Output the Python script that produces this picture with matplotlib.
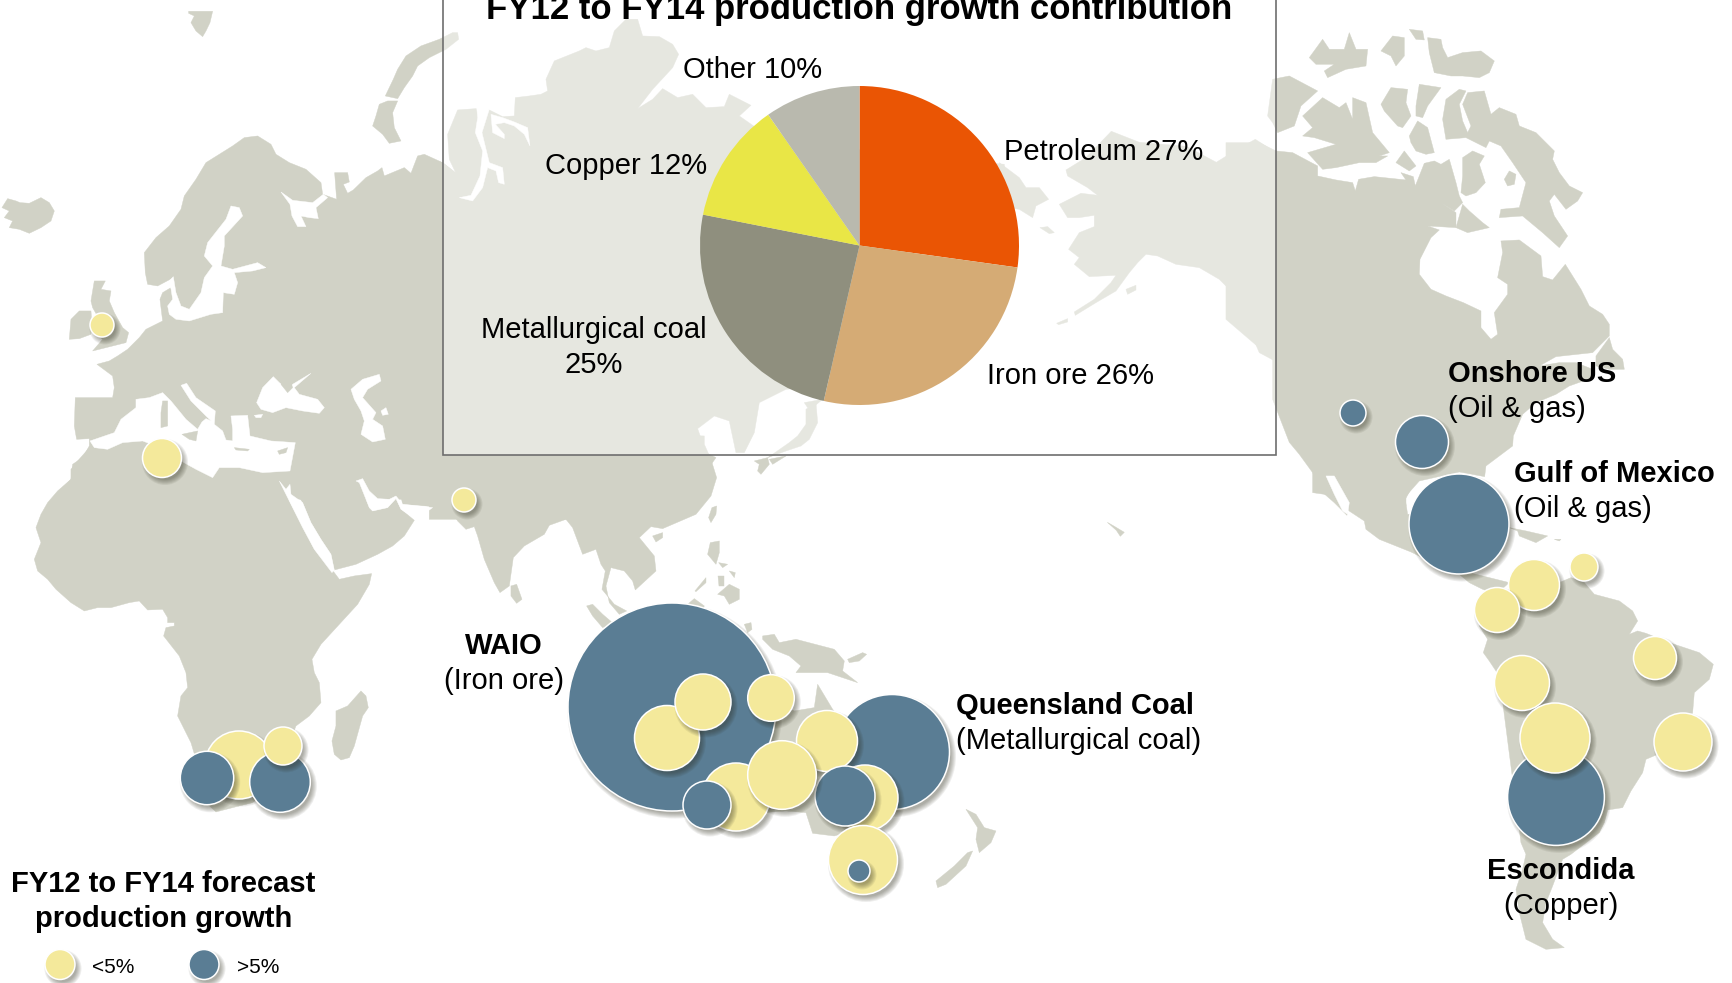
import matplotlib
matplotlib.use("Agg")
import matplotlib.pyplot as plt
from matplotlib.patches import Circle, Polygon, Rectangle

plt.rcParams['font.family'] = ['Liberation Sans', 'DejaVu Sans']

W, H = 1733, 983
LAND = '#D1D2C6'
BLUE = '#5A7D94'
YELLOW = '#F4E99B'

# ---------- pie data ----------
pie_labels = ['Petroleum', 'Iron ore', 'Metallurgical coal', 'Copper', 'Other']
pie_values = [27, 26, 25, 12, 10]
pie_shares = [27.2, 26.4, 24.5, 12.2, 9.7]
pie_colors = ['#EA5504', '#D5AB75', '#8F8F7E', '#E9E646', '#B9B9AE']

# ---------- bubble data (map x, map y, radius, kind) in stacking order ----------
bubble_x = [102, 162, 464, 239, 207, 280, 283,
            672, 667, 703, 771, 892, 865, 827, 845, 736, 707, 782, 863, 859,
            1353, 1422, 1459, 1584, 1534, 1497, 1655, 1522, 1556, 1555, 1683]
bubble_y = [325, 458, 500, 765, 778, 782, 746,
            707, 738, 702, 698, 752, 798, 741, 796, 797, 805, 775, 860, 871,
            413, 442, 524, 567, 585, 610, 658, 683, 797, 738, 742]
bubble_r = [12, 19.5, 12, 34, 26.7, 30.3, 19,
            104, 32.5, 28, 23.3, 57.5, 33, 30.5, 30, 34, 24, 34.3, 34.5, 11,
            13, 26.5, 50, 14, 25.5, 22.5, 21.5, 27.5, 48.4, 35, 29]
bubble_kind = ['y', 'y', 'y', 'y', 'b', 'b', 'y',
               'b', 'y', 'y', 'y', 'b', 'y', 'y', 'b', 'y', 'b', 'y', 'y', 'b',
               'b', 'b', 'b', 'y', 'y', 'y', 'y', 'y', 'b', 'y', 'y']

land_traces = [
 (0, 0, [(568,36),(640,36),(632,70),(620,95),(610,112),(590,95),(575,70),(585,50),(568,42)]),
 (0, 0, [(1375,100),(1378,120),(1340,150),(1290,175),(1255,200),(1240,230),(1215,265),(1195,298),(1158,290),(1170,265),(1182,240),(1195,210),(1220,170),(1265,140),(1320,120),(1360,100)]),
 (0, 0, [(1195,305),(1180,340),(1185,385),(1205,425),(1170,432),(1150,405),(1120,380),(1130,350),(1140,315),(1165,305)]),
 (0, 0, [(8,625),(25,598),(50,605),(62,610),(90,612),(125,595),(150,610),(165,635),(155,665),(125,685),(90,702),(60,690),(30,685),(40,665),(15,655),(30,635)]),
 (0, 0, [(210,1020),(215,960),(240,935),(275,935),(278,975),(275,1005),(240,1018)]),
 (0, 0, [(285,845),(318,845),(305,870),(335,875),(330,905),(345,940),(370,985),(388,1000),(380,1030),(340,1040),(280,1055),(310,1020),(290,1000),(300,960),(280,925),(275,905)]),
 # Europe and western Russia
 (0, 0, [(293,1095),(330,1085),(355,1070),(385,1050),(420,1015),(440,990),(480,970),(490,965),(482,900),(490,880),(515,865),(522,835),(475,860),(445,855),(438,820),(435,760),(470,715),(510,680),(545,630),(555,590),(590,540),(620,490),(660,465),(700,440),(735,415),(775,410),(815,435),(830,465),(870,490),(920,510),(965,550),(970,585),(1012,600),(1006,520),(1045,520),(1050,548),(1032,555),(1045,582),(1062,572),(1100,535),(1135,515),(1148,505),(1155,530),(1215,505),(1235,522),(1255,470),(1275,465),(1330,490),(1375,525),(1440,600),(1500,1500),(160,1500),(215,1440),(220,1395),(250,1375),(270,1340),(270,1318),(232,1320),(225,1280),(228,1195),(340,1195),(345,1165),(340,1130)]),
 # Africa
 (20, 440, [(215,20),(175,65),(155,90),(155,120),(115,155),(85,190),(65,225),(50,265),(65,310),(45,360),(55,395),(85,420),(110,450),(155,490),(195,515),(235,505),(275,505),(330,490),(360,485),(385,512),(430,510),(445,535),(445,550),(465,550),(465,560),(440,565),(433,590),(480,650),(500,700),(505,745),(485,770),(475,830),(515,910),(530,960),(560,1090),(590,1118),(640,1105),(700,1090),(760,1040),(830,860),(870,830),(905,790),(900,730),(885,700),(878,660),(905,615),(960,555),(1015,495),(1050,435),(1057,403),(1005,410),(960,420),(945,400),(885,330),(850,260),(815,195),(782,130),(800,60),(600,20)]),
 # Arabia
 (20, 440, [(815,135),(850,190),(875,250),(905,300),(935,345),(945,392),(1010,375),(1075,345),(1120,320),(1155,290),(1185,243),(1145,210),(1130,178),(1105,205),(1060,215),(1050,205),(1020,130),(900,60)]),
 (20, 440, [(1025,755),(1040,770),(1047,805),(1030,830),(1005,920),(990,955),(965,962),(945,945),(938,905),(950,860),(950,815),(985,800)]),
 # Siberia
 (440, 20, [(-30,420),(10,430),(50,462),(30,420),(25,345),(55,272),(110,268),(150,272),(190,292),(225,290),(228,235),(270,230),(305,225),(325,215),(320,180),(345,125),(420,95),(440,85),(470,95),(510,85),(525,35),(560,0),(595,0),(610,50),(660,52),(700,75),(718,105),(700,145),(640,210),(595,268),(640,240),(670,208),(715,235),(760,225),(800,265),(855,262),(870,225),(935,258),(900,290),(950,325),(1300,400),(1695,435),(1700,650),(1400,700),(1150,1100),(1040,1110),(960,1150),(945,1240),(915,1300),(890,1300),(870,1205),(825,1190),(775,1228),(800,1300),(830,1315),(700,1500),(-30,1500)]),
 (440, 20, [(1095,1150),(1150,1140),(1120,1165),(1105,1165)]),
 (440, 20, [(1100,1170),(1130,1150),(1135,1210),(1110,1260),(1085,1280),(1040,1295),(985,1315),(1000,1305),(1050,1270),(1075,1250),(1100,1215)]),
 (440, 20, [(945,1325),(985,1315),(990,1335),(965,1365),(955,1355),(960,1335)]),
 (440, 20, [(990,1320),(1040,1310),(1000,1335)]),
 # South and South-East Asia
 (430, 440, [(-120,0),(-80,195),(15,202),(55,198),(85,245),(110,270),(135,262),(145,290),(165,360),(195,430),(212,460),(240,440),(252,355),(285,320),(345,285),(360,258),(410,240),(430,265),(460,345),(500,330),(515,375),(528,395),(518,450),(555,495),(592,515),(570,525),(540,490),(530,440),(545,385),(585,395),(610,425),(618,452),(680,395),(675,350),(630,295),(665,262),(700,268),(800,225),(845,170),(862,115),(845,60),(825,15),(825,-10),(0,-30)]),
 (430, 440, [(245,440),(262,435),(278,480),(262,492),(245,470)]),
 (430, 440, [(670,290),(700,280),(700,295),(680,308)]),
 (430, 440, [(848,205),(862,200),(860,225),(845,250),(838,235)]),
 (430, 440, [(472,500),(490,495),(520,525),(555,555),(520,565),(490,530)]),
 (430, 440, [(843,310),(870,305),(870,340),(860,375),(835,345)]),
 (430, 440, [(868,370),(895,375),(880,385)]),
 (430, 440, [(900,395),(918,400),(915,415)]),
 (430, 440, [(797,455),(830,415),(830,430),(800,457)]),
 (430, 440, [(865,410),(885,410),(885,440),(870,440)]),
 (430, 440, [(865,465),(900,435),(930,450),(930,480),(900,495),(885,470)]),
 (430, 440, [(775,495),(795,478),(825,500),(800,560)]),
 (430, 440, [(945,555),(965,550),(968,570),(955,580)]),
 (430, 440, [(1000,590),(1035,585),(1050,610),(1100,600),(1215,630),(1245,665),(1240,695),(1285,730),(1240,715),(1195,700),(1100,700),(1115,680),(1080,650),(1030,630),(1000,600)]),
 (430, 440, [(1255,660),(1300,640),(1312,645),(1290,665),(1260,670)]),
 # Australia and New Zealand
 (530, 580, [(795,395),(855,385),(865,315),(880,340),(910,390),(960,450),(1100,620),(1050,720),(1000,745),(915,770),(850,762),(830,700),(770,695),(700,700),(640,700),(500,500),(700,350)]),
 (530, 580, [(1310,690),(1340,705),(1365,745),(1400,755),(1385,790),(1350,820),(1340,780),(1345,745)]),
 (530, 580, [(1330,815),(1310,860),(1250,915),(1225,925),(1220,905),(1275,860),(1315,820)]),
 (0, 0, [(3324,1569),(3345,1581),(3375,1599),(3363,1611),(3351,1593)]),
 # Chukotka and Alaska
 (1000, 140, [(0,70),(60,115),(80,145),(120,145),(148,180),(110,200),(100,235),(60,210),(0,200)]),
 (1000, 140, [(200,92),(260,55),(336,-24),(420,9),(561,21),(651,69),(714,30),(768,0),(830,40),(900,200),(900,700),(832,700),(822,660),(775,580),(740,500),(660,420),(600,385),(530,375),(475,350),(440,345),(415,370),(390,400),(350,455),(290,490),(228,528),(225,518),(285,480),(335,430),(350,408),(270,412),(225,375),(240,355),(208,330),(240,280),(285,262),(285,228),(240,235),(205,235),(180,195),(245,162),(295,168),(265,145),(205,110)]),
 (1000, 140, [(380,450),(410,438),(410,452),(385,465)]),
 (1000, 140, [(172,552),(205,538),(205,548),(178,556)]),
 (1000, 140, [(122,265),(145,262),(165,280),(150,283)]),
 (1000, 140, [(695,535),(715,535),(712,555),(700,553)]),
 (1000, 140, [(768,612),(800,620),(835,650),(850,670),(840,672),(780,640)]),
 # Canadian Arctic
 (1260, 20, [(505,55),(545,60),(550,85),(565,115),(610,100),(665,95),(705,125),(690,160),(660,175),(610,170),(575,170),(525,160),(510,100)]),
 (1260, 20, [(450,30),(490,35),(495,62),(470,60)]),
 (1260, 20, [(365,95),(400,50),(435,55),(435,110),(410,140),(395,110)]),
 (1260, 20, [(150,115),(190,60),(210,90),(255,90),(270,40),(290,90),(325,90),(320,140),(260,150),(205,175),(195,155),(225,135),(170,135)]),
 (1260, 20, [(25,290),(40,180),(90,170),(175,215),(125,260),(105,320),(55,340),(40,310)]),
 (1260, 20, [(130,290),(190,235),(240,265),(260,250),(280,300),(280,235),(320,250),(340,340),(390,400),(360,410),(385,410),(350,430),(300,430),(230,445),(190,450),(145,400),(230,375),(165,355),(130,350),(160,325)]),
 (1260, 20, [(365,255),(395,205),(445,210),(440,250),(455,290),(430,325),(415,320),(375,275)]),
 (1260, 20, [(470,260),(480,195),(545,205),(505,260),(490,295),(470,290)]),
 (1260, 20, [(450,350),(475,305),(505,325),(525,400),(500,405),(470,395),(455,370)]),
 (1260, 20, [(410,430),(435,395),(470,440),(450,455)]),
 (1260, 20, [(610,255),(625,220),(675,215),(695,285),(720,265),(770,285),(780,320),(830,340),(885,395),(880,420),(900,460),(930,500),(970,520),(955,545),(920,570),(885,525),(870,545),(885,590),(925,650),(900,685),(850,640),(790,590),(720,595),(725,570),(780,565),(800,490),(760,430),(725,380),(690,365),(680,385),(620,355),(560,360),(550,300),(560,240),(600,210),(620,215),(600,255),(610,305),(625,340),(635,320)]),
 (1260, 20, [(735,480),(750,455),(770,465),(765,495),(745,500)]),
 (1260, 20, [(610,415),(640,395),(675,410),(660,435),(678,490),(650,520),(620,530),(605,520),(610,470)]),
 (1260, 20, [(610,555),(630,575),(670,610),(690,625),(625,640),(590,625)]),
 # Canada and USA
 (1260, 20, [(0,370),(50,395),(100,400),(175,440),(175,470),(230,482),(280,490),(288,515),(298,480),(345,472),(440,482),(425,460),(462,472),(468,500),(480,470),(495,432),(525,425),(545,435),(570,420),(590,490),(600,530),(610,550),(585,575),(545,550),(590,580),(590,625),(505,620),(540,632),(515,655),(482,720),(480,765),(515,810),(560,830),(612,850),(665,875),(665,925),(695,960),(715,945),(705,880),(745,825),(745,795),(715,775),(730,700),(725,665),(780,662),(845,710),(850,772),(880,782),(918,735),(965,810),(990,860),(1030,885),(1050,915),(1050,950),(1000,1000),(890,1012),(840,1040),(900,1030),(950,1030),(1000,1050),(1000,1075),(930,1100),(890,1125),(830,1150),(790,1185),(762,1250),(760,1280),(680,1340),(676,1372),(600,1358),(480,1385),(440,1430),(440,1460),(160,1420),(160,1360),(120,1305),(90,1269),(40,1140),(40,1020),(-100,900),(-100,370)]),
 (1260, 20, [(1010,1010),(1050,955),(1060,990),(1090,1020),(1095,1050),(1050,1050),(1010,1040)]),
 # Mexico, Central America, Caribbean
 (1280, 480, [(100,-20),(125,35),(165,70),(203,108),(205,92),(255,125),(260,150),(300,180),(395,218),(480,260),(540,285),(570,310),(610,330),(650,345),(690,310),(530,270),(500,200),(440,100),(385,105),(378,60),(400,20),(400,-20)]),
 (1280, 480, [(690,145),(740,155),(805,170),(770,190),(720,170),(715,155)]),
 (1280, 480, [(825,180),(845,180),(840,185)]),
 # South America
 (1280, 480, [(650,340),(840,310),(875,295),(915,310),(945,345),(1020,365),(1060,395),(1075,425),(1050,465),(1075,455),(1100,462),(1170,490),(1260,520),(1302,555),(1290,600),(1245,640),(1240,700),(1195,800),(1100,840),(1090,880),(1055,935),(1030,985),(985,992),(975,1030),(960,1060),(875,1125),(850,1140),(820,1220),(800,1270),(790,1330),(820,1380),(855,1405),(800,1410),(740,1380),(720,1300),(710,1230),(730,1170),(740,1125),(725,1090),(700,900),(660,590),(630,545),(612,520),(625,480),(600,440)]),
]

water_traces = [
 # Baltic
 (0, 0, [(505,850),(522,832),(530,880),(545,920),(570,930),(605,880),(615,835),(640,800),(615,770),(625,730),(680,660),(695,620),(720,625),(730,650),(675,710),(675,740),(665,800),(700,810),(775,790),(800,805),(760,815),(705,820),(715,850),(705,885),(672,880),(670,940),(635,945),(570,965),(530,960),(510,945),(505,920),(520,900),(515,868)]),
 # White Sea
 (0, 0, [(845,578),(880,603),(940,610),(972,585),(985,595),(950,625),(957,658),(930,655),(905,650),(920,682),(895,682),(878,650),(872,615)]),
 # Mediterranean
 (0, 0, [(272,1325),(345,1300),(365,1260),(410,1225),(410,1200),(450,1195),(490,1180),(515,1205),(560,1260),(595,1290),(608,1268),(620,1258),(636,1265),(620,1250),(575,1205),(545,1158),(562,1152),(590,1195),(648,1235),(645,1275),(670,1295),(680,1322),(700,1325),(700,1290),(695,1250),(745,1248),(752,1310),(815,1325),(888,1330),(872,1415),(790,1420),(720,1405),(660,1405),(640,1435),(590,1410),(545,1385),(470,1340),(430,1325),(370,1330),(325,1350),(285,1345)]),
 # Black Sea, Marmara, Caspian, Aral
 (0, 0, [(772,1210),(790,1165),(822,1132),(840,1150),(870,1175),(880,1155),(935,1122),(885,1165),(900,1185),(955,1200),(975,1225),(960,1242),(910,1235),(860,1225),(820,1240),(785,1230)]),
 (0, 0, [(765,1248),(790,1245),(785,1255),(770,1255)]),
 (0, 0, [(1055,1170),(1090,1140),(1140,1125),(1145,1145),(1105,1170),(1090,1195),(1130,1240),(1120,1260),(1150,1280),(1158,1320),(1120,1328),(1085,1305),(1095,1265),(1085,1235),(1065,1200)]),
 (0, 0, [(1145,1235),(1160,1225),(1167,1245),(1150,1248)]),
 # Red Sea head and Persian Gulf
 (20, 440, [(780,125),(800,150),(812,135),(815,165),(850,190),(875,250),(905,300),(935,345),(945,392),(938,400),(885,330),(850,265),(815,195)]),
 (20, 440, [(1010,125),(1030,118),(1050,155),(1075,178),(1110,180),(1130,170),(1150,195),(1200,200),(1240,205),(1190,240),(1145,210),(1130,178),(1105,205),(1060,215),(1050,205),(1020,130)]),
 # Siberian gulfs
 (440, 20, [(112,262),(150,270),(128,340),(150,430),(190,445),(195,495),(178,490),(170,455),(145,445),(130,505),(100,545),(60,535),(95,528),(122,470),(130,395),(108,340),(115,295)]),
 (440, 20, [(190,295),(225,308),(265,325),(272,380),(255,345),(225,320),(195,310),(168,315),(195,345),(195,358),(160,340),(155,285)]),
 # Gulf of California
 (1280, 480, [(140,-10),(165,-10),(210,70),(205,105),(190,95),(165,45)]),
]

island_traces = [
 (0, 0, [(490,1205),(505,1205),(505,1280),(485,1285),(485,1240)]),
 (0, 0, [(548,1305),(595,1295),(590,1325),(570,1320)]),
 (0, 0, [(705,1345),(750,1350),(745,1355),(710,1352)]),
 (0, 0, [(835,1355),(865,1345),(860,1360),(840,1365)]),
 (0, 0, [(845,1155),(875,1150),(880,1165),(865,1180)]),
]

fig = plt.figure(figsize=(W / 100, H / 100), dpi=100, facecolor='white')
ax = fig.add_axes([0, 0, 1, 1])
ax.set_xlim(0, W)
ax.set_ylim(H, 0)
ax.axis('off')


def trace(ox, oy, pts):
    return [(ox + x / 3 - 0.7, oy + y / 3 - 0.7) for x, y in pts]


for ox, oy, pts in land_traces:
    ax.add_patch(Polygon(trace(ox, oy, pts), closed=True, fc=LAND, ec=LAND, lw=0.3, zorder=1))
for ox, oy, pts in water_traces:
    ax.add_patch(Polygon(trace(ox, oy, pts), closed=True, fc='white', ec='white', lw=0.3, zorder=2))
for ox, oy, pts in island_traces:
    ax.add_patch(Polygon(trace(ox, oy, pts), closed=True, fc=LAND, ec=LAND, lw=0.3, zorder=3))

# translucent inset panel
ax.add_patch(Rectangle((443, -10), 833, 464.5, fc='white', alpha=0.47, ec='none', zorder=4))
ax.add_patch(Rectangle((443, -10), 833, 464.5, fc='none', ec='#6E6E6E', lw=1.2, zorder=5))


def bubble(x, y, r, color, z):
    for extra in [3.5, 2.5, 1.5, 0.5, -0.5, -1.5]:
        ax.add_patch(Circle((x + 3, y + 4), r + extra, fc='#2F2F20', ec='none',
                            alpha=0.08, zorder=z))
    ax.add_patch(Circle((x, y), r, fc=color, ec='white', lw=1.1, zorder=z + 0.5))


for i, (x, y, r, kind) in enumerate(zip(bubble_x, bubble_y, bubble_r, bubble_kind)):
    bubble(x, y, r, BLUE if kind == 'b' else YELLOW, 6 + i)

# pie
cx, cy, pr = 859.5, 245.5, 159.5
pie_ax = fig.add_axes([(cx - pr) / W, 1 - (cy + pr) / H, 2 * pr / W, 2 * pr / H], zorder=2)
pie_ax.pie(pie_shares, colors=pie_colors, startangle=90, counterclock=False, radius=1,
           wedgeprops=dict(linewidth=0))
pie_ax.set_xlim(-1, 1)
pie_ax.set_ylim(-1, 1)
pie_ax.patch.set_alpha(0)

overlay = fig.add_axes([0, 0, 1, 1], zorder=3)
overlay.set_xlim(0, W)
overlay.set_ylim(H, 0)
overlay.axis('off')
overlay.patch.set_alpha(0)


def label(x, y, s, ha='left', bold=False, size=21):
    overlay.text(x, y, s, ha=ha, va='baseline', fontsize=size, color='black',
                 fontweight='bold' if bold else 'normal')


label(859.5, 19, 'FY12 to FY14 production growth contribution', ha='center', bold=True, size=25)
label(683, 78, f'{pie_labels[4]} {pie_values[4]}%')
label(707, 174, f'{pie_labels[3]} {pie_values[3]}%', ha='right')
label(593.5, 338, pie_labels[2], ha='center')
label(593.5, 373, f'{pie_values[2]}%', ha='center')
label(1004.5, 160, f'{pie_labels[0]} {pie_values[0]}%')
label(1154, 384, f'{pie_labels[1]} {pie_values[1]}%', ha='right')

label(1448, 382, 'Onshore US', bold=True)
label(1448, 417, '(Oil & gas)')
label(1514, 482, 'Gulf of Mexico', bold=True)
label(1514, 517, '(Oil & gas)')
label(1561, 879, 'Escondida', ha='center', bold=True)
label(1561, 914, '(Copper)', ha='center')
label(956, 714, 'Queensland Coal', bold=True)
label(956, 749, '(Metallurgical coal)')
label(504, 654, 'WAIO', ha='center', bold=True)
label(504, 689, '(Iron ore)', ha='center')

label(163.5, 892, 'FY12 to FY14 forecast', ha='center', bold=True)
label(163.5, 927, 'production growth', ha='center', bold=True)

for x, color, txt, tx in [(60, YELLOW, '<5%', 92.5), (204, BLUE, '>5%', 237)]:
    bubble(x, 964.5, 15, color, 60)
    label(tx, 973, txt, size=15)

fig.savefig('out.png', dpi=100, facecolor='white')
